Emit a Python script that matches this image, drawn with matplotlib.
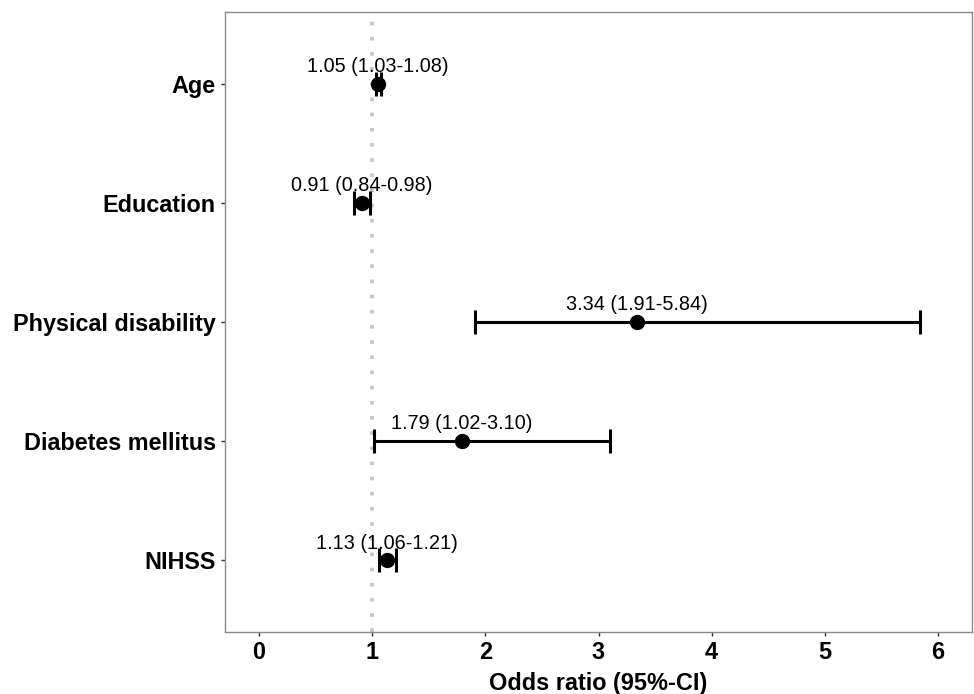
import matplotlib
matplotlib.use("Agg")
import matplotlib.pyplot as plt

plt.rcParams['font.family'] = ['Liberation Sans', 'DejaVu Sans']

variables = ["Age", "Education", "Physical disability", "Diabetes mellitus", "NIHSS"]
odds_ratio = [1.05, 0.91, 3.34, 1.79, 1.13]
ci_low = [1.03, 0.84, 1.91, 1.02, 1.06]
ci_high = [1.08, 0.98, 5.84, 3.10, 1.21]
x_ticks = [0, 1, 2, 3, 4, 5, 6]

fig = plt.figure(figsize=(9.74, 6.94), dpi=100)
ax = fig.add_axes([225/974, 1-632/694, (972-225)/974, (632-12)/694])

n = len(variables)
ypos = list(range(n, 0, -1))

ax.axvline(1, color='#c4c4c4', lw=2.6, linestyle=(0, (1, 3.2)), zorder=1)

for y, o, lo, hi in zip(ypos, odds_ratio, ci_low, ci_high):
    ax.errorbar([o], [y], xerr=[[o-lo], [hi-o]], fmt='o', color='black',
                ecolor='black', elinewidth=2.2, capsize=8.3, capthick=2.2,
                markersize=10, zorder=3)
    label = f"{o:.2f} ({lo:.2f}-{hi:.2f})"
    ax.text(o, y + 0.145, label, ha='center', va='center', fontsize=14.3,
            color='black', zorder=4)

ax.set_xlim(-0.3, 6.3)
ax.set_ylim(0.4, n + 0.6)
ax.set_xticks(x_ticks)
ax.set_xticklabels([str(t) for t in x_ticks], fontsize=16.9, fontweight='bold')
ax.set_yticks(ypos)
ax.set_yticklabels(variables, fontsize=16.8, fontweight='bold')
ax.set_xlabel("Odds ratio (95%-CI)", fontsize=16.9, fontweight='bold', labelpad=5.5)

for s in ax.spines.values():
    s.set_color('#8a8a8a')
    s.set_linewidth(1.0)
ax.tick_params(axis='both', length=3, width=1.0, color='#333333', pad=3.5)

fig.savefig("out.png", dpi=100)
